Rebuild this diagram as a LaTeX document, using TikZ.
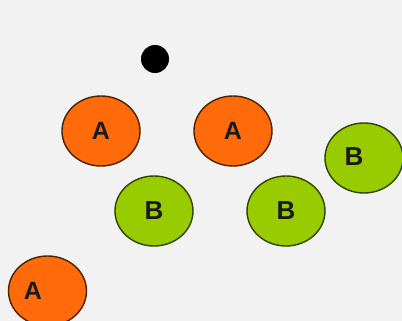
\documentclass[tikz,border=0pt]{standalone}
\usepackage{fontspec}
\setmainfont{Liberation Sans}
\usetikzlibrary{shapes.geometric}
\definecolor{bg}{HTML}{F2F2F2}
\definecolor{orng}{HTML}{FF6A0A}
\definecolor{orngline}{HTML}{4A2200}
\definecolor{grn}{HTML}{99CC00}
\definecolor{grnline}{HTML}{2E4500}
\definecolor{txt}{HTML}{1A1A1A}
\begin{document}
\begin{tikzpicture}[x=1pt,y=-1pt,
  ballA/.style={ellipse,fill=orng,draw=orngline,line width=1.4pt,minimum width=78pt,minimum height=70pt,inner sep=0pt,text=txt,font=\fontsize{25}{25}\selectfont\bfseries},
  ballB/.style={ellipse,fill=grn,draw=grnline,line width=1.4pt,minimum width=78pt,minimum height=70pt,inner sep=0pt,text=txt,font=\fontsize{26}{26}\selectfont\bfseries},
  lblA/.style={inner sep=0pt,text=txt,font=\fontsize{25}{25}\selectfont\bfseries},
  lblB/.style={inner sep=0pt,text=txt,font=\fontsize{26}{26}\selectfont\bfseries},
  dotn/.style={circle,fill=black,minimum size=28pt,inner sep=0pt}]
\fill[bg] (0,0) rectangle (402,321);
\useasboundingbox (0,0) rectangle (402,321);
\node[dotn] (d) at (155,59) {};
\node[ballA] (a1) at (101,131) {A};
\node[ballA] (a2) at (233,131) {A};
\node[ballB] (b1) at (154,211) {B};
\node[ballB] (b2) at (286,211) {B};
\node[ballB] (b3) at (364,158) {};
\node[lblB] (b3l) at ([xshift=-10pt,yshift=1.5pt]b3.center) {B};
\node[ballA] (a3) at (47.5,291) {};
\node[lblA] (a3l) at ([xshift=-14.5pt]a3.center) {A};
\end{tikzpicture}
\end{document}
